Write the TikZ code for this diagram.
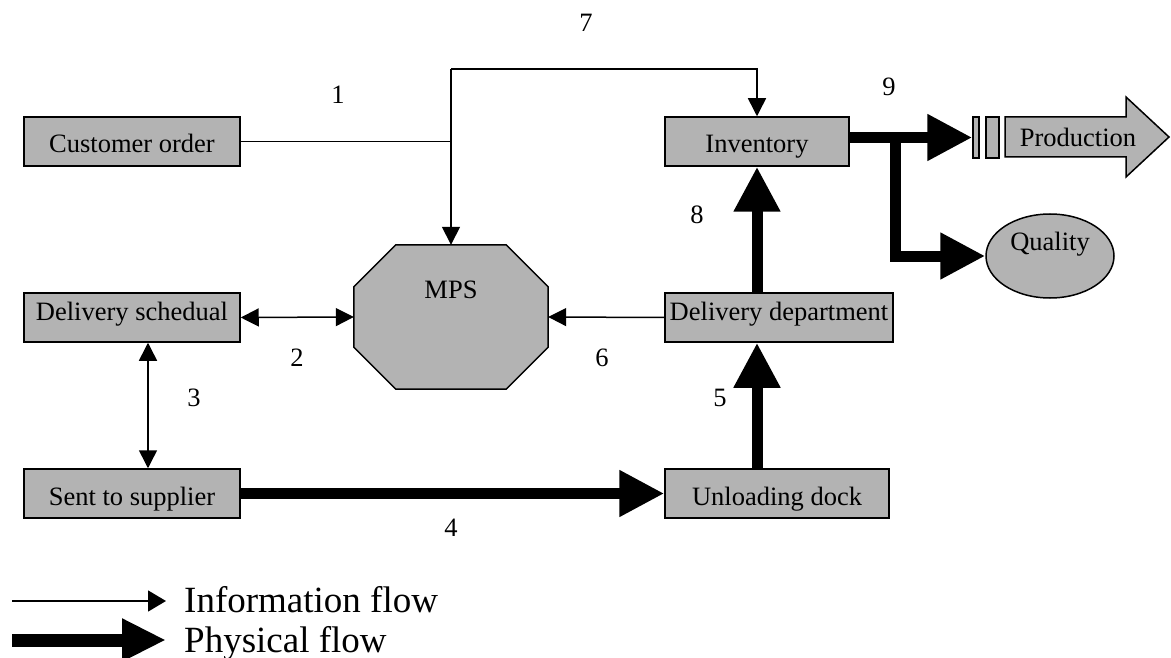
\documentclass[tikz,border=0pt]{standalone}
\usepackage{fontspec}
\setmainfont{Liberation Serif}
\usetikzlibrary{arrows.meta,shapes.geometric,calc,backgrounds}
\definecolor{boxgray}{RGB}{179,179,179}
\begin{document}
\begin{tikzpicture}[x=1pt,y=-1pt,
  box/.style={draw=black,line width=1.5pt,fill=boxgray,inner sep=0pt,minimum height=49pt,
    font=\fontsize{26.5}{30}\selectfont,text height=23pt,text depth=0pt},
  highbox/.style={text height=12pt,text depth=7pt},
  num/.style={inner sep=0pt,font=\fontsize{26.5}{30}\selectfont},
  legtext/.style={anchor=base west,inner sep=0pt,font=\fontsize{37}{40}\selectfont},
  info/.style={line width=1.5pt},
  infoarrow/.style={info,-{Triangle[length=18pt,width=18pt]}},
  dbl/.style={info,{Triangle[length=18pt,width=18pt]}-{Triangle[length=18pt,width=18pt]}},
  phys/.style={line width=11pt,-{Triangle[length=45pt,width=44pt]}},
  shapeline/.style={draw=black,line width=1.5pt,fill=boxgray},
]
\useasboundingbox (0,0) rectangle (1171,658);

% boxes
\node[box,minimum width=216pt] (customer) at (132,141.5) {Customer order};
\node[box,highbox,minimum width=216pt] (schedual) at (132,317.5) {Delivery schedual};
\node[box,minimum width=216pt] (supplier) at (132,493.5) {Sent to supplier};
\node[box,minimum width=184pt] (inventory) at (757,141.5) {Inventory};
\node[box,highbox,minimum width=228pt] (deldept) at (779,317.5) {Delivery department};
\node[box,minimum width=224pt] (dock) at (777,493.5) {Unloading dock};

% MPS octagon
\node[inner sep=0pt,minimum width=194pt,minimum height=144pt] (mps) at (451,317) {};
\draw[shapeline] ($(mps.north west)+(42,0)$) -- ($(mps.north east)+(-42,0)$)
  -- ($(mps.north east)+(0,42)$) -- ($(mps.south east)+(0,-42)$)
  -- ($(mps.south east)+(-42,0)$) -- ($(mps.south west)+(42,0)$)
  -- ($(mps.south west)+(0,-42)$) -- ($(mps.north west)+(0,42)$) -- cycle;
\node[num,anchor=base] (mpslabel) at (451,298) {MPS};

% Quality
\node[shapeline,ellipse,inner sep=0pt,minimum width=128pt,minimum height=84pt] (quality) at (1050,256) {};
\node[num,anchor=base] (qualitylabel) at (1050,251) {Quality};

% Production
\node[shapeline,inner sep=0pt,minimum width=6pt,minimum height=41pt] (bar1) at (976,137.5) {};
\node[shapeline,inner sep=0pt,minimum width=13pt,minimum height=41pt] (bar2) at (992.5,137.5) {};
\node[num,anchor=base] (production) at (1078,147) {Production};
\begin{scope}[on background layer]
\draw[shapeline] (1005,117) -- (1126,117) -- (1126,97) -- (1169,137) -- (1126,177)
  -- (1126,157) -- (1005,157) -- cycle;
\end{scope}

% information flows
\coordinate (t1) at (451,69);
\draw[info] (customer.east) -- (customer.east -| mps.north);
\draw[infoarrow] (t1) -- (mps.north);
\draw[infoarrow] (t1) -| (inventory.north);
\draw[dbl] (schedual.east) -- (mps.west);
\draw[dbl] ($(schedual.south)+(16,0)$) -- ($(supplier.north)+(16,0)$);
\draw[infoarrow] (deldept.west) -- (mps.east);

% physical flows
\draw[phys] (supplier.east) -- (dock.west);
\draw[phys] (dock.north -| inventory.south) -- (deldept.south -| inventory.south);
\draw[phys] (deldept.north -| inventory.south) -- (inventory.south);
\draw[phys] (inventory.east |- bar1.west) -- (bar1.west);
\coordinate (split) at ($(inventory.east |- bar1.west)+(46,0)$);
\draw[phys] (split) |- (quality.west);

% numbers
\node[num] (n1) at (338,95) {1};
\node[num] (n2) at (297,358) {2};
\node[num] (n3) at (194,398) {3};
\node[num] (n4) at (451,528) {4};
\node[num] (n5) at (720,398) {5};
\node[num] (n6) at (602,358) {6};
\node[num] (n7) at (586,23) {7};
\node[num] (n8) at (697,215) {8};
\node[num] (n9) at (889,87) {9};

% legend
\coordinate (li1) at (12,601);
\coordinate (li2) at (166,601);
\draw[info,-{Triangle[length=18pt,width=21pt]}] (li1) -- (li2);
\node[legtext] (infotext) at (184,612) {Information flow};
\coordinate (lp1) at (12,640);
\coordinate (lp2) at (166,640);
\draw[line width=13pt,-{Triangle[length=44pt,width=40pt]}] (lp1) -- (lp2);
\node[legtext] (phystext) at (184,652) {Physical flow};
\end{tikzpicture}
\end{document}
